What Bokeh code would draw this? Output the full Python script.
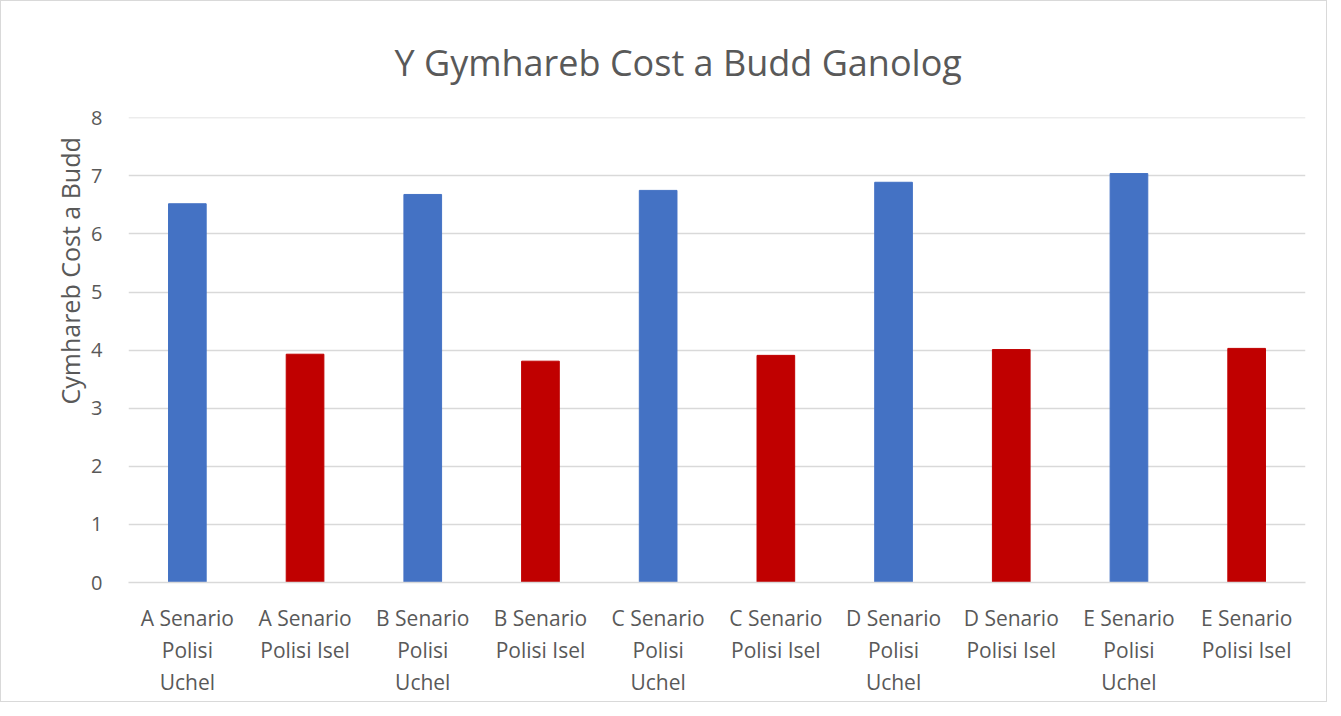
import math
from bokeh.plotting import figure
from bokeh.embed import file_html
from bokeh.resources import INLINE
from bokeh.models import ColumnDataSource, Title, SingleIntervalTicker
from bokeh.core.properties import value

categories = [
    "A Senario Polisi Uchel", "A Senario Polisi Isel",
    "B Senario Polisi Uchel", "B Senario Polisi Isel",
    "C Senario Polisi Uchel", "C Senario Polisi Isel",
    "D Senario Polisi Uchel", "D Senario Polisi Isel",
    "E Senario Polisi Uchel", "E Senario Polisi Isel",
]
tick_labels = [
    "A Senario\nPolisi\nUchel", "A Senario\nPolisi Isel",
    "B Senario\nPolisi\nUchel", "B Senario\nPolisi Isel",
    "C Senario\nPolisi\nUchel", "C Senario\nPolisi Isel",
    "D Senario\nPolisi\nUchel", "D Senario\nPolisi Isel",
    "E Senario\nPolisi\nUchel", "E Senario\nPolisi Isel",
]
ratios = [6.52, 3.93, 6.68, 3.81, 6.75, 3.91, 6.89, 4.01, 7.04, 4.03]
colors = ["#4472C4", "#C00000"] * 5

FONT = "Open Sans"
GREY = "#595959"

src = ColumnDataSource(dict(cat=tick_labels, name=categories, val=ratios, color=colors))

p = figure(
    x_range=tick_labels, y_range=(0, 8.005),
    width=1325, height=700,
    frame_width=1177, frame_height=465,
    min_border_left=127, min_border_right=21,
    min_border_top=116, min_border_bottom=119,
    output_backend="svg", toolbar_location=None,
)
p.styles = {"border": "1px solid #d9d9d9"}

p.vbar(x="cat", top="val", width=0.32, color="color", source=src)

t = Title(text="Y Gymhareb Cost a Budd Ganolog", align="left",
          text_font=FONT, text_font_size="36px", text_font_style="normal",
          text_color=GREY, standoff=62, offset=266)
p.add_layout(t, "above")

ylab = Title(text="Cymhareb Cost a Budd", align="left",
             text_font=FONT, text_font_size="25px", text_font_style="normal",
             text_color=GREY, standoff=4, offset=178)
p.add_layout(ylab, "left")

p.outline_line_color = None
p.background_fill_color = "white"
p.border_fill_color = "white"

p.xgrid.grid_line_color = None
p.ygrid.grid_line_color = "#d9d9d9"
p.ygrid.grid_line_width = 1.5

p.yaxis.ticker = SingleIntervalTicker(interval=1)
p.yaxis.axis_line_color = None
p.yaxis.major_tick_line_color = None
p.yaxis.minor_tick_line_color = None
p.yaxis.major_label_standoff = 20
p.yaxis.major_label_text_font = FONT
p.yaxis.major_label_text_font_size = "20px"
p.yaxis.major_label_text_color = GREY

p.xaxis.axis_line_color = "#d9d9d9"
p.xaxis.axis_line_width = 1.5
p.xaxis.major_tick_line_color = None
p.xaxis.minor_tick_line_color = None
p.xaxis.major_label_text_font = FONT
p.xaxis.major_label_text_font_size = "21px"
p.xaxis.major_label_text_color = GREY
p.xaxis.major_label_text_line_height = 1.15
p.xaxis.major_label_standoff = 15
p.xaxis.major_label_text_align = "center"

open("out.html", "w").write(file_html(p, INLINE))
